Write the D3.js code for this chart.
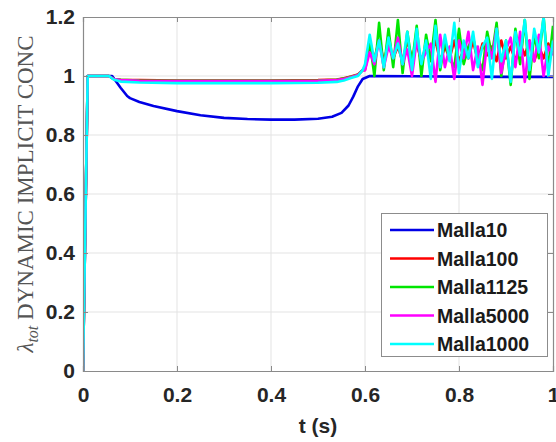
<!DOCTYPE html>
<html>
<head>
<meta charset="utf-8">
<script src="https://cdn.jsdelivr.net/npm/d3@7"></script>
<style>
  body { margin: 0; background: #fff; }
  svg { display: block; }
  .tick text { font-family: "Liberation Sans", Arial, sans-serif; font-weight: bold; font-size: 21px; fill: #262626; }
</style>
</head>
<body>
<svg id="svg" width="556" height="442"></svg>
<script>
var svg = d3.select("#svg"),
    width = +svg.attr("width"),
    height = +svg.attr("height");

var margin = {left: 83, right: 3, top: 17, bottom: 71};

// Malla10 (smooth)
var t10 = [0, 0.01, 0.055, 0.062, 0.08, 0.094, 0.1, 0.12, 0.15, 0.2, 0.25, 0.3, 0.35, 0.4, 0.45, 0.5, 0.53, 0.55, 0.565, 0.575, 0.585, 0.595, 0.61, 0.7, 0.8, 0.9, 1.0];
var v10 = [0, 1, 1, 1, 0.96, 0.932, 0.925, 0.912, 0.898, 0.881, 0.867, 0.858, 0.854, 0.852, 0.852, 0.855, 0.862, 0.875, 0.9, 0.93, 0.965, 0.99, 1.0, 0.999, 0.998, 0.997, 0.997];

// common time grid of the other meshes: start + noisy tail
var tHead = [0, 0.01, 0.055, 0.065, 0.08, 0.12, 0.2, 0.3, 0.4, 0.5, 0.54, 0.555, 0.57, 0.585, 0.595];
var tTail = [0.60, 0.61, 0.62, 0.63, 0.64, 0.65, 0.66, 0.67, 0.68, 0.69, 0.70, 0.71, 0.72, 0.73, 0.74, 0.75, 0.76, 0.77, 0.78, 0.79, 0.80,
             0.81, 0.82, 0.83, 0.84, 0.85, 0.86, 0.87, 0.88, 0.89, 0.90, 0.91, 0.92, 0.93, 0.94, 0.95, 0.96, 0.97, 0.98, 0.99, 1.00];

var head100  = [0, 1, 1, 0.99, 0.987, 0.986, 0.985, 0.985, 0.985, 0.986, 0.988, 0.992, 0.998, 1.005, 1.02];
var head1125 = [0, 1, 1, 0.99, 0.987, 0.985, 0.984, 0.984, 0.984, 0.985, 0.987, 0.991, 0.997, 1.004, 1.02];
var head5000 = [0, 1, 1, 0.99, 0.986, 0.984, 0.983, 0.983, 0.983, 0.984, 0.986, 0.99, 0.996, 1.003, 1.02];
var head1000 = [0, 1, 1, 0.988, 0.981, 0.978, 0.976, 0.976, 0.976, 0.977, 0.98, 0.985, 0.993, 1.0, 1.02];

var tail100  = [1.02, 1.10, 1.06, 1.12, 1.05, 1.11, 1.06, 1.10, 1.05, 1.12, 1.06, 1.11, 1.05, 1.10, 1.07, 1.12, 1.05, 1.10, 1.06, 1.12, 1.05,
                1.09, 1.06, 1.12, 1.05, 1.11, 1.07, 1.10, 1.05, 1.12, 1.06, 1.10, 1.05, 1.11, 1.07, 1.12, 1.05, 1.10, 1.06, 1.11, 1.08];
var tail1125 = [1.03, 1.12, 1.00, 1.18, 1.02, 1.16, 1.03, 1.19, 1.01, 1.15, 1.04, 1.17, 1.00, 1.14, 1.05, 1.19, 1.02, 1.12, 1.06, 1.03, 1.16,
                1.04, 1.10, 1.13, 1.06, 1.02, 1.15, 1.07, 1.18, 1.00, 1.12, 0.97, 1.16, 1.04, 1.19, 0.99, 1.14, 1.06, 1.20, 1.02, 1.17];
var tail5000 = [1.02, 1.08, 1.04, 1.12, 1.03, 1.10, 1.06, 1.13, 1.04, 1.09, 1.00, 1.12, 1.05, 1.08, 1.11, 0.98, 1.14, 1.03, 1.10, 0.99, 1.12,
                1.06, 1.15, 1.02, 1.10, 0.97, 1.12, 1.06, 1.16, 1.01, 1.09, 1.13, 1.03, 1.15, 0.98, 1.12, 1.05, 1.14, 1.00, 1.10, 1.07];
var tail1000 = [1.04, 1.14, 1.05, 1.12, 1.03, 1.13, 1.06, 1.11, 1.04, 1.15, 1.02, 1.16, 1.04, 1.12, 0.99, 1.17, 1.03, 1.14, 1.05, 1.18, 1.01,
                1.12, 1.06, 1.15, 1.03, 1.10, 1.13, 0.99, 1.16, 1.05, 1.12, 0.98, 1.15, 1.07, 1.19, 1.02, 1.16, 1.08, 1.20, 1.00, 1.12];

var names  = ["Malla10", "Malla100", "Malla1125", "Malla5000", "Malla1000"];
var colors = ["#0000e6", "#ff0000", "#00e600", "#ff00ff", "#00ffff"];

var xTicks = [0, 0.2, 0.4, 0.6, 0.8, 1];
var yTicks = [0, 0.2, 0.4, 0.6, 0.8, 1, 1.2];

function zipT(ts, vs) { return ts.map(function(t, i) { return [t, vs[i]]; }); }

var series = [
  zipT(t10, v10),
  zipT(tHead.concat(tTail), head100.concat(tail100)),
  zipT(tHead.concat(tTail), head1125.concat(tail1125)),
  zipT(tHead.concat(tTail), head5000.concat(tail5000)),
  zipT(tHead.concat(tTail), head1000.concat(tail1000))
];

var x = d3.scaleLinear().domain([0, 1]).range([margin.left, width - margin.right]);
var y = d3.scaleLinear().domain([0, 1.2]).range([height - margin.bottom, margin.top]);

// grid
svg.append("g").selectAll("line.gx")
  .data(xTicks.slice(1, -1)).enter().append("line")
    .attr("x1", function(d) { return x(d); }).attr("x2", function(d) { return x(d); })
    .attr("y1", y(0)).attr("y2", y(1.2))
    .attr("stroke", "#e3e3e3").attr("stroke-width", 1);
svg.append("g").selectAll("line.gy")
  .data(yTicks.slice(1, -1)).enter().append("line")
    .attr("y1", function(d) { return y(d); }).attr("y2", function(d) { return y(d); })
    .attr("x1", x(0)).attr("x2", x(1))
    .attr("stroke", "#e3e3e3").attr("stroke-width", 1);

svg.append("clipPath").attr("id", "clip")
  .append("rect").attr("x", x(0)).attr("y", y(1.2)).attr("width", x(1) - x(0)).attr("height", y(0) - y(1.2));

var line = d3.line().x(function(d) { return x(d[0]); }).y(function(d) { return y(d[1]); });

svg.append("g").attr("clip-path", "url(#clip)")
  .selectAll("path").data(series).enter().append("path")
    .attr("d", line)
    .attr("fill", "none")
    .attr("stroke", function(d, i) { return colors[i]; })
    .attr("stroke-width", 2.6)
    .attr("stroke-linejoin", "round");

// axes
var axisColor = "#8a8a8a";
var gx = svg.append("g").attr("transform", "translate(0," + y(0) + ")")
  .call(d3.axisBottom(x).tickValues(xTicks).tickSize(-5).tickPadding(16).tickFormat(d3.format("")));
var gx2 = svg.append("g").attr("transform", "translate(0," + y(1.2) + ")")
  .call(d3.axisTop(x).tickValues(xTicks).tickSize(-5).tickFormat(""));
var gy = svg.append("g").attr("transform", "translate(" + x(0) + ",0)")
  .call(d3.axisLeft(y).tickValues(yTicks).tickSize(-5).tickPadding(8).tickFormat(d3.format("")));
var gy2 = svg.append("g").attr("transform", "translate(" + x(1) + ",0)")
  .call(d3.axisRight(y).tickValues(yTicks).tickSize(-5).tickFormat(""));
[gx, gx2, gy, gy2].forEach(function(g) {
  g.selectAll(".domain").attr("stroke", axisColor).attr("stroke-width", 1.2);
  g.selectAll(".tick line").attr("stroke", axisColor);
});

// labels
svg.append("text")
    .attr("x", (x(0) + x(1)) / 2).attr("y", 433)
    .attr("text-anchor", "middle")
    .attr("font-family", "Liberation Sans, Arial, sans-serif")
    .attr("font-weight", "bold").attr("font-size", 21).attr("fill", "#262626")
    .text("t (s)");

var yl = svg.append("text")
    .attr("transform", "translate(33," + ((y(0) + y(1.2)) / 2) + ") rotate(-90)")
    .attr("text-anchor", "middle")
    .attr("font-family", "Liberation Serif, Times New Roman, serif")
    .attr("font-size", 23).attr("fill", "#555");
yl.append("tspan").attr("font-style", "italic").text("λ");
yl.append("tspan").attr("font-style", "italic").attr("font-size", 16).attr("dy", 5).text("tot");
yl.append("tspan").attr("dy", -5).text(" DYNAMIC IMPLICIT CONC");

// legend
var leg = svg.append("g");
leg.append("rect")
    .attr("x", 381.5).attr("y", 213.5).attr("width", 166).attr("height", 143)
    .attr("fill", "#fff").attr("stroke", "#8c8c8c").attr("stroke-width", 1);
var items = leg.selectAll("g.item").data(names).enter().append("g")
    .attr("transform", function(d, i) { return "translate(0," + (230 + i * 28.5) + ")"; });
items.append("line")
    .attr("x1", 390).attr("x2", 434).attr("y1", 0).attr("y2", 0)
    .attr("stroke", function(d, i) { return colors[i]; }).attr("stroke-width", 2.6);
items.append("text")
    .attr("x", 437).attr("y", 7)
    .attr("font-family", "Liberation Sans, Arial, sans-serif")
    .attr("font-weight", "bold").attr("font-size", 19.5).attr("fill", "#1a1a1a")
    .text(function(d) { return d; });
</script>
</body>
</html>
